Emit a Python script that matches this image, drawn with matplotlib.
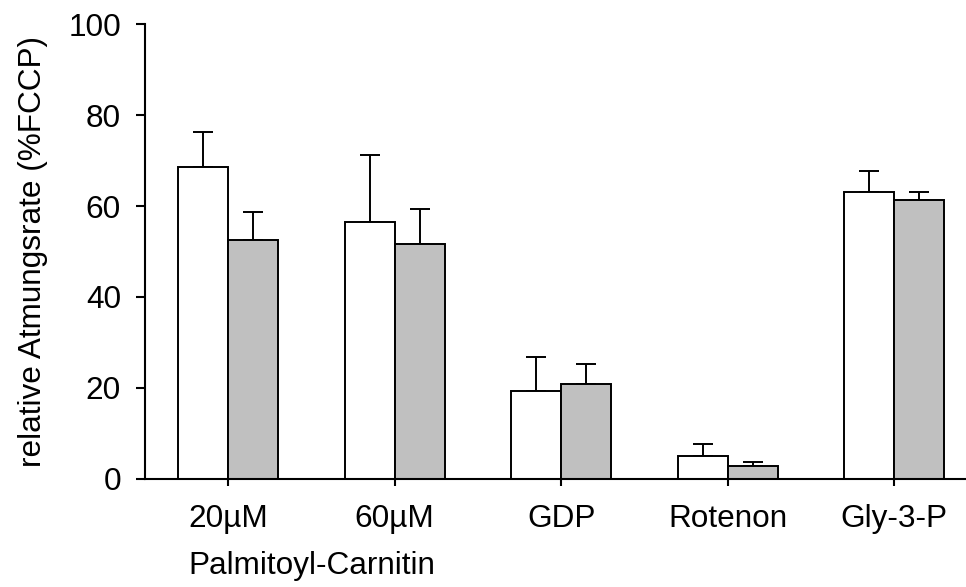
import matplotlib
matplotlib.use("Agg")
import matplotlib.pyplot as plt
import numpy as np

plt.rcParams['font.family'] = ['Liberation Sans', 'DejaVu Sans']

categories = ["20µM", "60µM", "GDP", "Rotenon", "Gly-3-P"]
white_vals = [68.7, 56.6, 19.2, 4.9, 63.1]
white_err = [7.6, 14.6, 7.6, 2.7, 4.6]
grey_vals = [52.5, 51.6, 20.9, 2.8, 61.4]
grey_err = [6.3, 7.8, 4.4, 0.8, 1.8]
yticks = [0, 20, 40, 60, 80, 100]
ylabel = "relative Atmungsrate (%FCCP)"
group_label = "Palmitoyl-Carnitin"

FS = 22.7

fig = plt.figure(figsize=(9.66, 5.87), dpi=100)
ax = fig.add_axes([0.1504, 0.1845, 0.8496, 0.7741])

x = np.arange(len(categories))
w = 0.3
lw = 1.4
ax.bar(x - w/2, white_vals, width=w, color="white", edgecolor="black", linewidth=lw, zorder=2)
ax.bar(x + w/2, grey_vals, width=w, color="#c0c0c0", edgecolor="black", linewidth=lw, zorder=2)
ax.errorbar(x - w/2, white_vals, yerr=[np.zeros(len(x)), white_err], fmt="none",
            ecolor="black", elinewidth=lw, capsize=7.5, capthick=lw, zorder=1)
ax.errorbar(x + w/2, grey_vals, yerr=[np.zeros(len(x)), grey_err], fmt="none",
            ecolor="black", elinewidth=lw, capsize=7.5, capthick=lw, zorder=1)

ax.set_xlim(-0.497, 4.43)
ax.set_ylim(0, 100)
ax.set_yticks(yticks)
ax.set_xticks(x)
ax.set_xticklabels(categories)
for s in ["top", "right"]:
    ax.spines[s].set_visible(False)
for s in ["left", "bottom"]:
    ax.spines[s].set_linewidth(1.5)
ax.tick_params(axis="y", direction="out", length=6.5, width=1.5, pad=11, labelsize=FS)
ax.tick_params(axis="x", direction="out", length=5, width=1.5, pad=13, labelsize=FS)
ax.set_ylabel(ylabel, fontsize=FS)
ax.yaxis.set_label_coords(-0.119, 0.5)
ax.text(0.5, -0.16, group_label, transform=ax.get_xaxis_transform(), ha="center", va="top", fontsize=FS)

fig.savefig("out.png", dpi=100)
